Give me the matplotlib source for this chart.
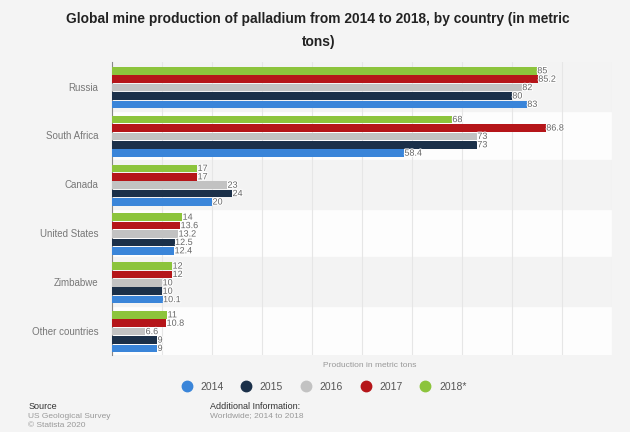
import matplotlib.pyplot as plt
import numpy as np
from matplotlib import patheffects as pe

plt.rcParams['font.family'] = ['Liberation Sans', 'DejaVu Sans']

countries = ['Russia', 'South Africa', 'Canada', 'United States', 'Zimbabwe', 'Other countries']
years = ['2014', '2015', '2016', '2017', '2018*']
v2014 = [83, 58.4, 20, 12.4, 10.1, 9]
v2015 = [80, 73, 24, 12.5, 10, 9]
v2016 = [82, 73, 23, 13.2, 10, 6.6]
v2017 = [85.2, 86.8, 17, 13.6, 12, 10.8]
v2018 = [85, 68, 17, 14, 12, 11]
labels2014 = ['83', '58.4', '20', '12.4', '10.1', '9']
labels2015 = ['80', '73', '24', '12.5', '10', '9']
labels2016 = ['82', '73', '23', '13.2', '10', '6.6']
labels2017 = ['85.2', '86.8', '17', '13.6', '12', '10.8']
labels2018 = ['85', '68', '17', '14', '12', '11']
colors = ['#3a85d9', '#1b3049', '#c2c2c2', '#b51519', '#8cc43c']

series = [v2014, v2015, v2016, v2017, v2018]
texts = [labels2014, labels2015, labels2016, labels2017, labels2018]

bg = '#f4f4f4'
fig = plt.figure(figsize=(6.3, 4.32), dpi=100, facecolor=bg)
ax = fig.add_axes([0.178, 0.178, 0.793, 0.678])
ax.set_facecolor('#fdfdfd')

y = np.arange(len(countries))
h = 0.155
step = 0.172
for i, c in enumerate(countries):
    if i % 2 == 0:
        ax.axhspan(i - 0.5, i + 0.5, color='#f3f3f3', zorder=0)

for k in range(5):
    off = (2 - k) * step
    ax.barh(y + off + 0.02, series[k], height=h, color=colors[k], zorder=3)
    for yy, val, t in zip(y + off + 0.02, series[k], texts[k]):
        ax.text(val + 0.1, yy, t, va='center', ha='left', fontsize=6.5, color='#666666', zorder=4,
                path_effects=[pe.withStroke(linewidth=1.5, foreground='white')])

ax.set_xlim(0, 100)
ax.set_ylim(len(countries) - 0.5, -0.5)
ax.set_xticks(np.arange(0, 101, 10))
ax.set_xticklabels([])
ax.tick_params(axis='x', length=0)
ax.tick_params(axis='y', length=0, pad=10)
ax.set_yticks(y)
ax.set_yticklabels(countries, fontsize=7, color='#777777')
ax.grid(axis='x', color='#e6e6e6', linewidth=0.8, zorder=1)
for s in ['top', 'right', 'bottom']:
    ax.spines[s].set_visible(False)
ax.spines['left'].set_color('#888888')
ax.spines['left'].set_linewidth(0.8)

fig.text(0.587, 0.155, 'Production in metric tons', ha='center', va='center', fontsize=6, color='#999999')

fig.text(0.505, 0.955, 'Global mine production of palladium from 2014 to 2018, by country (in metric',
         ha='center', va='center', fontsize=9.9, fontweight='bold', color='#222222')
fig.text(0.505, 0.903, 'tons)', ha='center', va='center', fontsize=9.9, fontweight='bold', color='#222222')

handles = [plt.Line2D([], [], marker='o', linestyle='', markersize=7.5, color=col) for col in colors]
fig.legend(handles, years, loc='center', bbox_to_anchor=(0.51, 0.104), ncol=5, frameon=False,
           fontsize=7.5, handletextpad=0.3, columnspacing=1.2, labelcolor='#555555')

fig.text(0.045, 0.060, 'Source', fontsize=6.5, color='#333333', va='center')
fig.text(0.045, 0.037, 'US Geological Survey', fontsize=6, color='#999999', va='center')
fig.text(0.045, 0.016, '\u00a9 Statista 2020', fontsize=6, color='#999999', va='center')
fig.text(0.333, 0.060, 'Additional Information:', fontsize=6.5, color='#333333', va='center')
fig.text(0.333, 0.037, 'Worldwide; 2014 to 2018', fontsize=6, color='#999999', va='center')

fig.savefig('out.png', dpi=100, facecolor=bg)
